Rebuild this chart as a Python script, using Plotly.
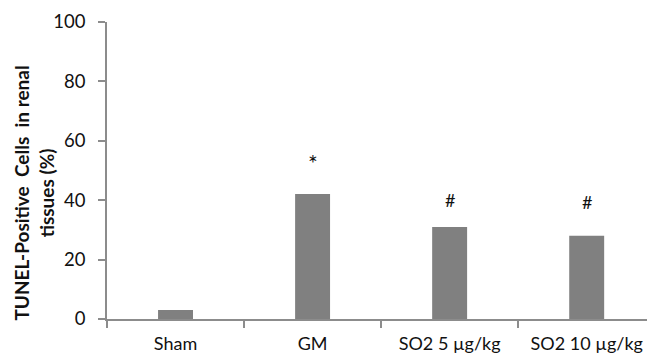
import plotly.graph_objects as go

categories = ["Sham", "GM", "SO2 5 µg/kg", "SO2 10 µg/kg"]
values = [3.0, 42.1, 31.0, 28.0]
sig_marks = ["", "*", "#", "#"]
sig_y = [None, 52.5, 40.0, 39.4]
y_ticks = [0, 20, 40, 60, 80, 100]

W, H = 647, 356
ML, MR, MT, MB = 107, 0, 22, 37
X_RANGE = [-0.5, 3.44]  # plot area continues past the cropped right edge

fig = go.Figure()
fig.add_trace(go.Bar(x=categories, y=values, marker=dict(color="#808080", line=dict(width=0)),
                     width=0.255, hoverinfo="skip"))

for c, m, yv in zip(categories, sig_marks, sig_y):
    if m:
        fig.add_annotation(x=c, y=yv, text=m, showarrow=False, xref="x", yref="y",
                           font=dict(family="Lato", size=23 if m == "*" else 18, color="#111111"),
                           xanchor="center", yanchor="middle")

plot_w = W - ML - MR
fig.add_annotation(xref="paper", yref="y", x=-(ML - 34.5) / plot_w, y=42.4,
                   text="<b>TUNEL-Positive  Cells  in renal<br>tissues (%)</b>",
                   textangle=-90, showarrow=False, xanchor="center", yanchor="middle",
                   font=dict(family="Lato", size=19, color="#111111"))

axis_col = "#8c8c8c"
fig.update_layout(
    width=W, height=H, margin=dict(l=ML, r=MR, t=MT, b=MB, autoexpand=False),
    paper_bgcolor="white", plot_bgcolor="white", showlegend=False,
    font=dict(family="Lato", size=18, color="#111111"),
    xaxis=dict(type="category", range=X_RANGE, showline=True, linecolor=axis_col, linewidth=1.5,
               ticks="outside", tickson="boundaries", ticklen=7, tickcolor=axis_col, tickwidth=1.5,
               showgrid=False, zeroline=False, automargin=False, ticklabelstandoff=8,
               tickfont=dict(family="Lato", size=18)),
    yaxis=dict(range=[0, 100], tickvals=y_ticks, showline=True, linecolor=axis_col, linewidth=1.5,
               ticks="outside", ticklen=7, tickcolor=axis_col, tickwidth=1.5,
               showgrid=False, zeroline=False, ticklabelstandoff=9, automargin=False,
               tickfont=dict(family="Lato", size=18.5)),
)

fig.write_html("out.html", config={"displayModeBar": False},
               post_script="document.body.style.margin='0';")
